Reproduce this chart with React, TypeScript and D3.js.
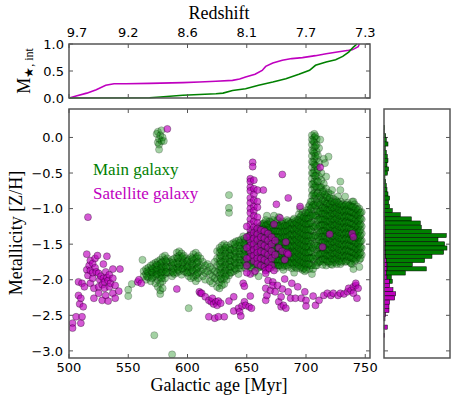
import React from "react";
import * as d3 from "d3";

const W = 457;
const H = 406;

const ageTicks = [500, 550, 600, 650, 700, 750];
const redshiftLabels = ["9.7", "9.2", "8.6", "8.1", "7.7", "7.3"];
const zTicks = [0, -0.5, -1, -1.5, -2, -2.5, -3];
const mTicks = [0, 0.5, 1];

// cumulative stellar mass (top panel)
const mainMassAge = [500, 568, 577, 596, 624, 630, 638, 649, 660, 672, 683, 694, 703, 708, 717, 725, 731, 736, 740, 743];
const mainMass = [0, 0.006, 0.018, 0.05, 0.08, 0.09, 0.14, 0.17, 0.235, 0.296, 0.358, 0.438, 0.512, 0.605, 0.667, 0.71, 0.77, 0.85, 0.944, 1.0];
const satMassAge = [500, 506, 515, 523, 531, 538, 548, 568, 596, 610, 624, 638, 644, 649, 657, 663, 666, 672, 680, 688, 697, 708, 717, 725, 736, 739, 741, 744, 745];
const satMass = [0, 0.037, 0.09, 0.154, 0.235, 0.265, 0.265, 0.27, 0.284, 0.296, 0.31, 0.327, 0.352, 0.39, 0.44, 0.51, 0.586, 0.648, 0.7, 0.73, 0.747, 0.784, 0.82, 0.846, 0.883, 0.895, 0.914, 0.95, 1.0];

// scatter: main galaxy, columns of [age, metallicities]
const mainCols: [number, number[]][] = [
  [550, [-2.14, -2.23]], [553, [-2.06]], [562, [-1.72]], [572, [-2.78]], [587, [-3.05]],
  [574, [0.05]], [575, [0.08, -0.07]], [576, [-0.02, -0.1, -0.17]], [577, [0.03]], [578, [-0.05, 0.1]], [579, [0.0]], [580, [-0.05]],
  [563, [-1.88, -1.95]], [565, [-1.85, -1.92, -2.0]], [567, [-1.83, -1.9, -1.97]],
  [569, [-1.8, -1.87, -1.93, -2.02]], [571, [-1.78, -1.85, -1.9, -1.96]],
  [573, [-1.76, -1.82, -1.88, -1.95, -2.05]], [575, [-1.74, -1.8, -1.86, -1.92, -2.0, -2.1]],
  [577, [-1.72, -1.78, -1.85, -1.9, -1.96, -2.05, -2.15, -2.2]], [579, [-1.68, -1.75, -1.82, -1.88, -1.94, -2.02, -2.12]],
  [581, [-1.66, -1.72, -1.8, -1.86, -1.92, -1.98]], [583, [-1.7, -1.76, -1.84, -1.9]],
  [585, [-1.75, -1.82, -1.9]], [587, [-1.72, -1.8, -1.88, -1.95]], [589, [-1.7, -1.78, -1.85, -1.92]],
  [591, [-1.62, -1.68, -1.76, -1.83, -1.9]], [593, [-1.6, -1.66, -1.74, -1.82, -1.88]],
  [595, [-1.63, -1.7, -1.78, -1.85, -1.93]], [597, [-1.66, -1.73, -1.8, -1.88]],
  [599, [-1.7, -1.78, -1.84, -1.9]], [601, [-1.72, -1.8, -1.88, -1.95, -2.4]],
  [603, [-1.68, -1.75, -1.83, -1.9, -1.98]], [605, [-1.64, -1.72, -1.8, -1.88, -1.96]],
  [607, [-1.62, -1.7, -1.78, -1.86, -1.94, -2.02]], [609, [-1.66, -1.74, -1.82, -1.9, -1.98]],
  [611, [-1.7, -1.8, -1.88]], [613, [-1.75, -1.85, -1.95]], [615, [-1.8, -1.9, -2.0]],
  [617, [-1.78, -1.88]], [619, [-1.82, -1.92, -2.02]], [621, [-1.85, -1.95, -2.05]],
  [623, [-1.75, -1.88, -1.98]], [625, [-1.6, -1.7, -1.8, -1.9, -2.0, -2.1]],
  [627, [-1.55, -1.62, -1.7, -1.78, -1.86, -1.94, -2.04, -2.12]],
  [629, [-1.52, -1.6, -1.68, -1.76, -1.84, -1.92, -2.0, -2.08]],
  [631, [-1.5, -1.58, -1.66, -1.74, -1.82, -1.9, -1.98, -2.06]],
  [633, [-1.52, -1.6, -1.68, -1.76, -1.84, -1.92, -2.0]],
  [635, [-1.55, -1.62, -1.7, -1.78, -1.86, -1.94, -0.81, -0.99, -1.06]],
  [637, [-1.5, -1.58, -1.66, -1.74, -1.82, -1.9]], [639, [-1.48, -1.56, -1.64, -1.72, -1.8, -1.88]],
  [641, [-1.46, -1.54, -1.62, -1.7, -1.78, -1.86]], [643, [-1.45, -1.52, -1.6, -1.68, -1.76, -1.84, -1.92]],
  [645, [-1.44, -1.52, -1.6, -1.68, -1.76, -1.84]], [647, [-1.39, -1.48, -1.56, -1.64, -1.72, -1.8]],
  [649, [-1.45, -1.52, -1.6, -1.68, -1.76, -1.84]], [651, [-1.4, -1.48, -1.56, -1.64, -1.72, -1.8]],
  [653, [-1.36, -1.44, -1.52, -1.6, -1.68, -1.76, -1.84]], [655, [-1.32, -1.4, -1.48, -1.56, -1.64, -1.72, -1.8]],
  [656, [-1.9]], [660, [-1.95]],
  [657, [-1.3, -1.38, -1.46, -1.54, -1.62, -1.7, -1.78]], [659, [-1.28, -1.36, -1.44, -1.52, -1.6, -1.68, -1.76, -1.84]],
  [661, [-1.25, -1.33, -1.41, -1.49, -1.57, -1.65, -1.73, -1.81]], [663, [-1.22, -1.3, -1.38, -1.46, -1.54, -1.62, -1.7, -1.78]],
  [665, [-1.2, -1.28, -1.36, -1.44, -1.52, -1.6, -1.68, -1.76, -1.84]],
  [667, [-1.1, -1.22, -1.3, -1.38, -1.46, -1.54, -1.62, -1.7, -1.78]],
  [669, [-1.18, -1.26, -1.34, -1.42, -1.5, -1.58, -1.66, -1.74, -1.82]],
  [671, [-1.2, -1.28, -1.36, -1.44, -1.52, -1.6, -1.68, -1.76]],
  [673, [-1.1, -1.22, -1.3, -1.38, -1.46, -1.54, -1.62, -1.7, -1.78]],
  [675, [-1.2, -1.28, -1.36, -1.44, -1.52, -1.6, -1.68, -1.76, -1.84]],
  [677, [-1.12, -1.24, -1.32, -1.4, -1.48, -1.56, -1.64, -1.72, -1.8]],
  [679, [-1.2, -1.28, -1.36, -1.44, -1.52, -1.6, -1.68, -1.76]],
  [681, [-1.22, -1.3, -1.38, -1.46, -1.54, -1.62, -1.7, -1.78, -1.86]],
  [683, [-1.2, -1.28, -1.36, -1.44, -1.52, -1.6, -1.68, -1.76]],
  [685, [-1.18, -1.26, -1.34, -1.42, -1.5, -1.58, -1.66, -1.74, -1.82]],
  [687, [-1.2, -1.28, -1.36, -1.44, -1.52, -1.6, -1.68, -1.76]],
  [689, [-1.16, -1.24, -1.32, -1.4, -1.48, -1.56, -1.64, -1.72, -1.8]],
  [690, [-1.9]],
  [691, [-1.18, -1.26, -1.34, -1.42, -1.5, -1.58, -1.66, -1.74, -1.82]],
  [693, [-1.15, -1.22, -1.3, -1.38, -1.46, -1.54, -1.62, -1.7, -1.78]],
  [695, [-1.0, -1.12, -1.2, -1.28, -1.36, -1.44, -1.52, -1.6, -1.68, -1.76, -1.84]],
  [697, [-1.05, -1.14, -1.22, -1.3, -1.38, -1.46, -1.54, -1.62, -1.7, -1.78, -1.86]],
  [699, [-1.08, -1.16, -1.24, -1.32, -1.4, -1.48, -1.56, -1.64, -1.72, -1.8, -1.88]],
  [701, [-1.02, -1.1, -1.18, -1.26, -1.34, -1.42, -1.5, -1.58, -1.66, -1.74, -1.82]],
  [703, [-0.95, -1.05, -1.13, -1.21, -1.29, -1.37, -1.45, -1.53, -1.61, -1.69, -1.77, -1.85]],
  [705, [0.03, -0.03, -0.1, -0.18, -0.26, -0.34, -0.42, -0.5, -0.58, -0.66, -0.74, -0.82, -0.9, -0.98, -1.08, -1.2, -1.32, -1.44, -1.56, -1.68, -1.8, -1.92]],
  [707, [0.05, 0.0, -0.07, -0.14, -0.22, -0.3, -0.38, -0.46, -0.54, -0.62, -0.7, -0.78, -0.86, -0.94, -1.04, -1.14, -1.26, -1.38, -1.5, -1.62, -1.74]],
  [709, [-0.02, -0.1, -0.2, -0.3, -0.4, -0.5, -0.6, -0.7, -0.8, -0.9, -1.0, -1.1, -1.22, -1.34, -1.46, -1.58, -1.7, -1.8]],
  [711, [-0.15, -0.35, -0.55, -0.7, -0.85, -0.95, -1.05, -1.15, -1.25, -1.35, -1.45, -1.55, -1.65, -1.75]],
  [712, [-0.03]], [715, [-0.3]], [719, [-0.27]], [716, [-0.36]], [717, [-0.55]],
  [713, [-0.5, -0.6, -0.7, -0.8, -0.9, -1.0, -1.08, -1.16, -1.24, -1.32, -1.4, -1.48, -1.56, -1.64, -1.72]],
  [715, [-0.65, -0.75, -0.85, -0.95, -1.03, -1.11, -1.19, -1.27, -1.35, -1.43, -1.51, -1.59, -1.67, -1.75]],
  [717, [-0.72, -0.82, -0.92, -1.0, -1.08, -1.16, -1.24, -1.32, -1.4, -1.48, -1.56, -1.64, -1.72, -1.8]],
  [719, [-0.78, -0.88, -0.96, -1.04, -1.12, -1.2, -1.28, -1.36, -1.44, -1.52, -1.6, -1.68, -1.76]],
  [721, [-0.8, -0.9, -0.98, -1.06, -1.14, -1.22, -1.3, -1.38, -1.46, -1.54, -1.62, -1.7, -1.78]],
  [722, [-0.74]],
  [723, [-0.86, -0.95, -1.03, -1.11, -1.19, -1.27, -1.35, -1.43, -1.51, -1.59, -1.67, -1.75]],
  [725, [-0.88, -0.96, -1.04, -1.12, -1.2, -1.28, -1.36, -1.44, -1.52, -1.6, -1.68, -1.76]],
  [727, [-0.83, -0.92, -1.0, -1.08, -1.16, -1.24, -1.32, -1.4, -1.48, -1.56, -1.64, -1.72]],
  [729, [-0.62, -0.74, -0.9, -0.98, -1.06, -1.14, -1.22, -1.3, -1.38, -1.46, -1.54, -1.62, -1.7, -1.78]],
  [731, [-0.93, -1.01, -1.09, -1.17, -1.25, -1.33, -1.41, -1.49, -1.57, -1.65, -1.73]],
  [733, [-0.83, -0.95, -1.03, -1.11, -1.19, -1.27, -1.35, -1.43, -1.51, -1.59, -1.67, -1.75]],
  [735, [-0.92, -1.0, -1.08, -1.16, -1.24, -1.32, -1.4, -1.48, -1.56, -1.64, -1.72]],
  [737, [-0.95, -1.03, -1.11, -1.19, -1.27, -1.35, -1.43, -1.51, -1.59, -1.67, -1.75]],
  [739, [-0.9, -0.98, -1.06, -1.14, -1.22, -1.3, -1.38, -1.46, -1.54, -1.62, -1.7, -1.78]],
  [740, [-0.9, -1.85]],
  [741, [-0.94, -1.02, -1.1, -1.18, -1.26, -1.34, -1.42, -1.5, -1.58, -1.66, -1.74]],
  [743, [-0.97, -1.05, -1.13, -1.21, -1.29, -1.37, -1.45, -1.53, -1.61, -1.69]],
  [745, [-1.0, -1.08, -1.16, -1.24, -1.32, -1.4, -1.48, -1.56, -1.64, -1.72, -1.82]],
  [747, [-1.05, -1.15, -1.25, -1.35, -1.45, -1.55, -1.65]],
  // denser interleaved points
  [566, [-1.88, -1.95]], [570, [-1.84, -1.9, -1.98]], [574, [-1.79, -1.86, -1.93]], [578, [-1.76, -1.83, -1.9, -1.98]],
  [582, [-1.74, -1.82, -1.89]], [588, [-1.76, -1.84, -1.9]], [592, [-1.7, -1.78, -1.86]], [596, [-1.68, -1.76, -1.84]],
  [600, [-1.74, -1.82, -1.9]], [604, [-1.7, -1.78, -1.86]], [608, [-1.68, -1.76, -1.84, -1.92]],
  [628, [-1.58, -1.66, -1.74, -1.82, -1.9, -1.98]], [632, [-1.55, -1.63, -1.71, -1.79, -1.87, -1.95]],
  [636, [-1.58, -1.66, -1.74, -1.82, -1.9]], [640, [-1.5, -1.6, -1.68, -1.76, -1.84]],
  [644, [-1.48, -1.56, -1.64, -1.72, -1.8]], [648, [-1.42, -1.5, -1.58, -1.66, -1.74]],
  [652, [-1.38, -1.46, -1.54, -1.62, -1.7, -1.78]], [654, [-1.34, -1.42, -1.5, -1.58, -1.66, -1.74, -1.82]],
  [658, [-1.29, -1.37, -1.45, -1.53, -1.61, -1.69, -1.77]], [660, [-1.27, -1.35, -1.43, -1.51, -1.59, -1.67, -1.75, -1.83]],
  [662, [-1.24, -1.32, -1.4, -1.48, -1.56, -1.64, -1.72, -1.8]], [664, [-1.21, -1.29, -1.37, -1.45, -1.53, -1.61, -1.69, -1.77]],
  [666, [-1.16, -1.24, -1.32, -1.4, -1.48, -1.56, -1.64, -1.72, -1.8]], [668, [-1.22, -1.3, -1.38, -1.46, -1.54, -1.62, -1.7, -1.78]],
  [670, [-1.19, -1.27, -1.35, -1.43, -1.51, -1.59, -1.67, -1.75, -1.83]], [672, [-1.16, -1.24, -1.32, -1.4, -1.48, -1.56, -1.64, -1.72, -1.8]],
  [674, [-1.24, -1.32, -1.4, -1.48, -1.56, -1.64, -1.72, -1.8]], [676, [-1.16, -1.24, -1.32, -1.4, -1.48, -1.56, -1.64, -1.72, -1.8]],
  [678, [-1.24, -1.32, -1.4, -1.48, -1.56, -1.64, -1.72, -1.8]], [680, [-1.18, -1.26, -1.34, -1.42, -1.5, -1.58, -1.66, -1.74, -1.82]],
  [682, [-1.24, -1.32, -1.4, -1.48, -1.56, -1.64, -1.72, -1.8]], [684, [-1.16, -1.24, -1.32, -1.4, -1.48, -1.56, -1.64, -1.72, -1.8]],
  [686, [-1.22, -1.3, -1.38, -1.46, -1.54, -1.62, -1.7, -1.78]], [688, [-1.2, -1.28, -1.36, -1.44, -1.52, -1.6, -1.68, -1.76, -1.84]],
  [690, [-1.14, -1.22, -1.3, -1.38, -1.46, -1.54, -1.62, -1.7, -1.78]], [692, [-1.2, -1.28, -1.36, -1.44, -1.52, -1.6, -1.68, -1.76, -1.84]],
  [694, [-1.08, -1.16, -1.24, -1.32, -1.4, -1.48, -1.56, -1.64, -1.72, -1.8]],
  [696, [-1.1, -1.18, -1.26, -1.34, -1.42, -1.5, -1.58, -1.66, -1.74, -1.82]],
  [698, [-1.12, -1.2, -1.28, -1.36, -1.44, -1.52, -1.6, -1.68, -1.76, -1.84]],
  [700, [-1.06, -1.14, -1.22, -1.3, -1.38, -1.46, -1.54, -1.62, -1.7, -1.78, -1.86]],
  [702, [-0.98, -1.06, -1.14, -1.22, -1.3, -1.38, -1.46, -1.54, -1.62, -1.7, -1.78]],
  [704, [-0.9, -1.0, -1.1, -1.2, -1.3, -1.4, -1.5, -1.6, -1.7, -1.8]],
  [706, [-0.05, -0.2, -0.35, -0.5, -0.65, -0.8, -0.95, -1.1, -1.25, -1.4, -1.55, -1.7, -1.85]],
  [708, [0.02, -0.12, -0.26, -0.4, -0.54, -0.68, -0.82, -0.96, -1.1, -1.24, -1.38, -1.52, -1.66, -1.8]],
  [710, [-0.25, -0.45, -0.62, -0.78, -0.92, -1.04, -1.16, -1.28, -1.4, -1.52, -1.64, -1.76]],
  [712, [-0.7, -0.82, -0.94, -1.04, -1.14, -1.24, -1.34, -1.44, -1.54, -1.64, -1.74]],
  [714, [-0.76, -0.88, -0.99, -1.07, -1.15, -1.23, -1.31, -1.39, -1.47, -1.55, -1.63, -1.71, -1.79]],
  [716, [-0.8, -0.9, -0.99, -1.07, -1.15, -1.23, -1.31, -1.39, -1.47, -1.55, -1.63, -1.71]],
  [718, [-0.84, -0.93, -1.02, -1.1, -1.18, -1.26, -1.34, -1.42, -1.5, -1.58, -1.66, -1.74]],
  [720, [-0.85, -0.94, -1.02, -1.1, -1.18, -1.26, -1.34, -1.42, -1.5, -1.58, -1.66, -1.74]],
  [722, [-0.9, -0.99, -1.07, -1.15, -1.23, -1.31, -1.39, -1.47, -1.55, -1.63, -1.71, -1.79]],
  [724, [-0.92, -1.0, -1.08, -1.16, -1.24, -1.32, -1.4, -1.48, -1.56, -1.64, -1.72]],
  [726, [-0.9, -0.98, -1.06, -1.14, -1.22, -1.3, -1.38, -1.46, -1.54, -1.62, -1.7, -1.78]],
  [728, [-0.94, -1.02, -1.1, -1.18, -1.26, -1.34, -1.42, -1.5, -1.58, -1.66, -1.74]],
  [730, [-0.95, -1.03, -1.11, -1.19, -1.27, -1.35, -1.43, -1.51, -1.59, -1.67, -1.75]],
  [732, [-0.97, -1.05, -1.13, -1.21, -1.29, -1.37, -1.45, -1.53, -1.61, -1.69]],
  [734, [-0.94, -1.02, -1.1, -1.18, -1.26, -1.34, -1.42, -1.5, -1.58, -1.66, -1.74]],
  [736, [-0.96, -1.04, -1.12, -1.2, -1.28, -1.36, -1.44, -1.52, -1.6, -1.68]],
  [738, [-0.97, -1.05, -1.13, -1.21, -1.29, -1.37, -1.45, -1.53, -1.61, -1.69, -1.77]],
  [740, [-0.98, -1.06, -1.14, -1.22, -1.3, -1.38, -1.46, -1.54, -1.62, -1.7]],
  [742, [-1.0, -1.08, -1.16, -1.24, -1.32, -1.4, -1.48, -1.56, -1.64, -1.72]],
  [744, [-1.02, -1.1, -1.18, -1.26, -1.34, -1.42, -1.5, -1.58, -1.66]],
  [746, [-1.06, -1.14, -1.22, -1.3, -1.38, -1.46, -1.54, -1.62, -1.7]],
];

// scatter: satellite galaxy
const satCols: [number, number[]][] = [
  [516, [-1.12]], [583, [0.12]],
  [503, [-2.61, -2.68]], [506, [-2.52]], [508, [-2.03, -2.22]], [509, [-2.34]], [510, [-2.26, -2.61]],
  [511, [-2.05, -2.52]], [512, [-2.38]], [513, [-2.1]], [515, [-1.64, -1.86]], [516, [-1.94]],
  [517, [-1.8]], [518, [-1.73, -1.87, -2.05]], [520, [-1.77, -1.98, -1.9]], [521, [-2.12, -2.26]],
  [522, [-1.7, -1.83]], [523, [-1.89]], [524, [-1.66]], [525, [-1.91, -2.1, -2.19]], [526, [-2.0]],
  [527, [-1.95]], [528, [-2.29, -2.07]], [529, [-1.78, -1.98]], [530, [-2.12, -2.03]], [531, [-1.89, -2.22]],
  [532, [-1.67, -1.97]], [533, [-2.01, -2.3]], [534, [-2.1, -1.93]], [535, [-2.05]], [537, [-1.85, -1.98, -2.19]],
  [539, [-2.08, -2.26]], [542, [-2.16]], [543, [-1.85]], [558, [-2.03]], [559, [-2.0]], [561, [-2.05]],
  [591, [-2.13]], [610, [-2.17]], [611, [-2.19]], [612, [-2.19]], [615, [-2.24]], [618, [-2.29, -2.52]],
  [620, [-2.31]], [621, [-2.26]], [622, [-2.34]], [623, [-2.54]], [624, [-2.31]], [625, [-2.36]],
  [626, [-2.3, -2.52]], [628, [-2.33]], [631, [-2.52]], [635, [-2.3]], [639, [-2.24, -2.44]],
  [643, [-2.4]], [644, [-2.45]], [645, [-2.51]], [646, [-2.37]], [647, [-2.05]], [648, [-2.09, -2.31]],
  [649, [-2.36]], [652, [-2.38]], [653, [-2.23]], [654, [-2.4]], [666, [-2.12, -2.29]], [667, [-2.22]],
  [668, [-2.01]], [670, [-2.15]], [672, [-2.03, -2.08]], [674, [-2.17]], [676, [-2.08]], [677, [-2.31]],
  [679, [-2.24, -2.38]], [680, [-2.13]], [681, [-2.36]], [682, [-1.99]], [683, [-2.4]], [685, [-2.17]],
  [687, [-2.26]], [688, [-2.05]], [691, [-2.26]], [693, [-2.1]], [696, [-2.26]], [699, [-2.17]],
  [700, [-2.29, -2.37]], [706, [-2.23]], [708, [-2.36]], [711, [-2.29]], [715, [-2.22]], [718, [-2.19]],
  [721, [-2.22]], [723, [-2.19]], [727, [-2.22]], [729, [-2.19]], [732, [-2.2]], [735, [-2.17]],
  [736, [-2.12]], [738, [-2.15]], [740, [-2.1, -2.19]], [742, [-2.08, -2.05]], [743, [-2.26]], [744, [-2.12]],
  [655, [-0.35, -0.41]],
  [653, [-0.58, -0.62, -0.7, -0.75, -0.85, -0.92, -1.0, -1.06, -1.15, -1.22, -1.3, -1.38, -1.45, -1.52, -1.6, -1.68, -1.92]],
  [656, [-0.6, -0.72, -0.8, -0.88, -0.97, -1.03, -1.1, -1.18, -1.26, -1.34, -1.42, -1.5, -1.58, -1.66, -1.74]],
  [659, [-0.74, -0.9, -0.98, -1.12, -1.2, -1.28, -1.36, -1.44, -1.55, -1.62, -1.7, -1.78]],
  [650, [-1.25, -1.4, -1.55, -1.7, -1.8, -1.9]], [657, [-1.88]], [664, [-0.74]],
  [662, [-1.3, -1.4, -1.5, -1.6, -1.7, -1.8]], [665, [-1.32, -1.42, -1.52, -1.62, -1.72, -1.82]],
  [668, [-1.35, -1.45, -1.55, -1.65, -1.75, -1.85]], [671, [-1.4, -1.5, -1.6, -1.7, -1.8]],
  [674, [-1.45, -1.65]], [677, [-1.55]], [680, [-1.6]], [684, [-1.62]],
  [666, [-1.87, -1.91]], [669, [-1.84]], [673, [-1.87, -1.22]], [682, [-1.72]], [683, [-1.47]], [685, [-1.64]],
  [680, [-0.52]], [685, [-0.85]], [675, [-0.94]], [695, [-0.97]], [678, [-1.13]],
  [712, [-0.42]], [720, [-1.36]], [714, [-1.54]], [739, [-1.35]], [740, [-1.4]],
];

// histogram (right panel): bin centres and counts
const histZ = [0.142, 0.084, 0.025, -0.033, -0.092, -0.15, -0.209, -0.267, -0.326, -0.384, -0.443, -0.501, -0.56, -0.618, -0.677, -0.735, -0.794, -0.852, -0.911, -0.969, -1.028, -1.086, -1.145, -1.203, -1.262, -1.32, -1.379, -1.437, -1.496, -1.554, -1.613, -1.671, -1.73, -1.788, -1.847, -1.905, -1.964, -2.022, -2.081, -2.139, -2.198, -2.256, -2.315, -2.373, -2.432, -2.49, -2.549, -2.607, -2.666, -2.724, -2.783];
const histMain = [2, 1, 5, 7, 12, 4, 7, 10, 12, 9, 14, 10, 3, 4, 6, 7, 11, 15, 13, 15, 23, 47, 79, 107, 109, 139, 184, 159, 178, 186, 175, 139, 115, 76, 118, 57, 13, 8, 0, 0, 0, 0, 0, 0, 0, 0, 0, 0, 0, 0, 0];
const histSat = [0, 0, 0, 0, 0, 0, 0, 0, 0, 0, 0, 0, 0, 1, 1, 2, 1, 2, 1, 2, 2, 2, 3, 2, 3, 3, 3, 3, 4, 3, 4, 5, 7, 9, 9, 7, 9, 17, 17, 27, 35, 32, 17, 15, 15, 5, 3, 0, 10, 0, 2];
const histBinWidth = 0.0585;

const GREEN = "#008000";
const MAGENTA = "#bf00bf";
const SPINE = "#555";
const TICKFONT = "'DejaVu Sans', sans-serif";
const SERIF = "'Liberation Serif', 'Times New Roman', serif";

function flatten(cols: [number, number[]][]) {
  const out: { a: number; z: number }[] = [];
  cols.forEach(([a, zs]) => zs.forEach((z) => out.push({ a, z })));
  return out;
}

export default function App() {
  const topBox = { l: 69, r: 370, t: 44, b: 98 };
  const mainBox = { l: 69, r: 370, t: 109, b: 358 };
  const histBox = { l: 384, r: 450, t: 109, b: 358 };

  const x = d3.scaleLinear().domain([500, 754]).range([mainBox.l, mainBox.r]);
  const y = d3.scaleLinear().domain([-3.1, 0.4]).range([mainBox.b, mainBox.t]);
  const yM = d3.scaleLinear().domain([0, 1]).range([topBox.b, topBox.t]);
  const hx = d3.scaleLinear().domain([0, 198]).range([histBox.l, histBox.r]);

  const line = d3.line<[number, number]>().x((d) => x(d[0])).y((d) => yM(d[1]));
  const mainLine = line(mainMassAge.map((a, i) => [a, mainMass[i]]));
  const satLine = line(satMassAge.map((a, i) => [a, satMass[i]]));

  const mainPts = flatten(mainCols);
  const satPts = flatten(satCols);
  const tl = 4;

  const fmt = (v: number) => (v < 0 ? "\u2212" : "") + Math.abs(v).toFixed(1);

  return (
    <svg width={W} height={H} style={{ position: "absolute", left: 0, top: 0, background: "#fff" }}>
      <defs>
        <clipPath id="mainClip">
          <rect x={mainBox.l} y={mainBox.t} width={mainBox.r - mainBox.l} height={mainBox.b - mainBox.t} />
        </clipPath>
        <clipPath id="topClip">
          <rect x={topBox.l} y={topBox.t - 2} width={topBox.r - topBox.l} height={topBox.b - topBox.t + 4} />
        </clipPath>
      </defs>

      {/* Top panel */}
      <g clipPath="url(#topClip)">
        <path d={satLine || ""} fill="none" stroke={MAGENTA} strokeWidth={1.6} />
        <path d={mainLine || ""} fill="none" stroke={GREEN} strokeWidth={1.6} />
      </g>
      <rect x={topBox.l} y={topBox.t} width={topBox.r - topBox.l} height={topBox.b - topBox.t} fill="none" stroke={SPINE} strokeWidth={1.5} />
      {ageTicks.map((a, i) => (
        <g key={"tt" + a}>
          <line x1={x(a)} x2={x(a)} y1={topBox.b} y2={topBox.b - tl} stroke={SPINE} />
          <line x1={x(a)} x2={x(a)} y1={topBox.t} y2={topBox.t + tl} stroke={SPINE} />
          <text x={x(a) + (i === 0 ? 8 : 0)} y={37} textAnchor="middle" fontFamily={TICKFONT} fontSize={13}>{redshiftLabels[i]}</text>
        </g>
      ))}
      {mTicks.map((m) => (
        <g key={"mt" + m}>
          <line x1={topBox.l} x2={topBox.l + tl} y1={yM(m)} y2={yM(m)} stroke={SPINE} />
          <line x1={topBox.r} x2={topBox.r - tl} y1={yM(m)} y2={yM(m)} stroke={SPINE} />
          <text x={64} y={yM(m)} dy="0.36em" textAnchor="end" fontFamily={TICKFONT} fontSize={13}>{m.toFixed(1)}</text>
        </g>
      ))}
      <text x={219} y={19} textAnchor="middle" fontFamily={SERIF} fontSize={18}>Redshift</text>
      <text transform="translate(30,71) rotate(-90)" textAnchor="middle" fontFamily={SERIF} fontSize={18}>
        M<tspan fontSize={12} dy={3}>{"\u2605, int"}</tspan>
      </text>

      {/* Main scatter */}
      <g clipPath="url(#mainClip)">
        {mainPts.map((p, i) => (
          <circle key={"g" + i} cx={x(p.a)} cy={y(p.z)} r={3.6} fill={GREEN} fillOpacity={0.36} stroke="#000" strokeOpacity={0.4} strokeWidth={0.5} />
        ))}
        {satPts.map((p, i) => (
          <circle key={"m" + i} cx={x(p.a)} cy={y(p.z)} r={3.5} fill={MAGENTA} fillOpacity={0.65} stroke="#000" strokeOpacity={0.6} strokeWidth={0.5} />
        ))}
      </g>
      <rect x={mainBox.l} y={mainBox.t} width={mainBox.r - mainBox.l} height={mainBox.b - mainBox.t} fill="none" stroke={SPINE} strokeWidth={1.5} />
      {ageTicks.map((a) => (
        <g key={"xt" + a}>
          <line x1={x(a)} x2={x(a)} y1={mainBox.b} y2={mainBox.b - tl} stroke={SPINE} />
          <line x1={x(a)} x2={x(a)} y1={mainBox.t} y2={mainBox.t + tl} stroke={SPINE} />
          <text x={x(a)} y={372} textAnchor="middle" fontFamily={TICKFONT} fontSize={13}>{a}</text>
        </g>
      ))}
      {zTicks.map((z) => (
        <g key={"zt" + z}>
          <line x1={mainBox.l} x2={mainBox.l + tl} y1={y(z)} y2={y(z)} stroke={SPINE} />
          <line x1={mainBox.r} x2={mainBox.r - tl} y1={y(z)} y2={y(z)} stroke={SPINE} />
          <text x={63} y={y(z)} dy="0.36em" textAnchor="end" fontFamily={TICKFONT} fontSize={13}>{fmt(z)}</text>
          <line x1={histBox.l} x2={histBox.l + tl} y1={y(z)} y2={y(z)} stroke={SPINE} />
          <line x1={histBox.r} x2={histBox.r - tl} y1={y(z)} y2={y(z)} stroke={SPINE} />
        </g>
      ))}
      <text x={219} y={391} textAnchor="middle" fontFamily={SERIF} fontSize={18}>Galactic age [Myr]</text>
      <text transform="translate(22,233) rotate(-90)" textAnchor="middle" fontFamily={SERIF} fontSize={18}>Metallicity [Z/H]</text>
      <text x={93} y={175} fontFamily={SERIF} fontSize={17} fill={GREEN}>Main galaxy</text>
      <text x={93} y={199} fontFamily={SERIF} fontSize={17} fill={MAGENTA}>Satellite galaxy</text>

      {/* Histogram */}
      <g>
        {histZ.map((zc, i) => {
          const y0 = y(zc + histBinWidth / 2);
          const h = y(zc - histBinWidth / 2) - y0;
          return (
            <g key={"h" + i}>
              {histSat[i] > 0 && (
                <rect x={hx(0)} y={y0} width={hx(histSat[i]) - hx(0)} height={h} fill={MAGENTA} stroke="#000" strokeWidth={0.5} />
              )}
              {histMain[i] > 0 && (
                <rect x={hx(histSat[i])} y={y0} width={hx(histSat[i] + histMain[i]) - hx(histSat[i])} height={h} fill={GREEN} stroke="#000" strokeWidth={0.5} />
              )}
            </g>
          );
        })}
      </g>
      <rect x={histBox.l} y={histBox.t} width={histBox.r - histBox.l} height={histBox.b - histBox.t} fill="none" stroke={SPINE} strokeWidth={1.5} />
    </svg>
  );
}
